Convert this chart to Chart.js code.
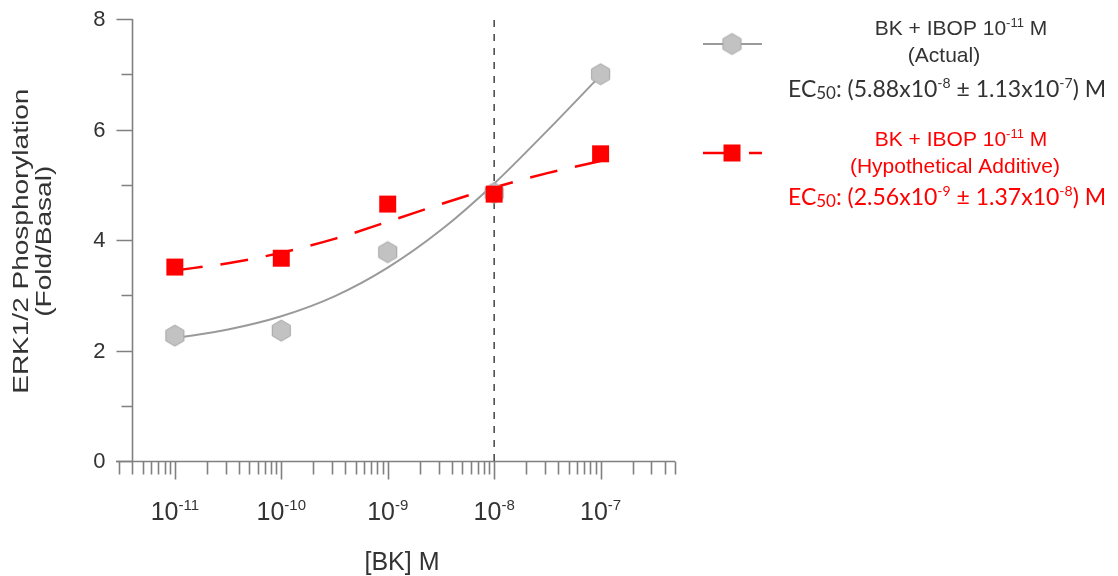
<!DOCTYPE html>
<html>
<head>
<meta charset="utf-8">
<script src="https://cdn.jsdelivr.net/npm/chart.js@4.4.1/dist/chart.umd.min.js"></script>
<style>
  html, body { margin: 0; padding: 0; background: #fff; }
  #wrap { width: 1118px; height: 576px; }
</style>
</head>
<body>
<div id="wrap"><canvas id="chart" width="1118" height="576"></canvas></div>
<script>
// measured points, [BK] in M
const doses = [1e-11, 1e-10, 1e-9, 1e-8, 1e-7]
const actual = [2.27, 2.36, 3.78, 4.85, 7.0]
const additive = [3.51, 3.67, 4.65, 4.83, 5.56]

// fitted curves, every half decade
const curveDoses = [1e-11, 3.16e-11, 1e-10, 3.16e-10, 1e-9, 3.16e-9, 1e-8, 3.16e-8, 1e-7]
const actualFit = [2.22, 2.38, 2.62, 2.98, 3.50, 4.18, 5.02, 5.98, 6.98]
const additiveFit = [3.45, 3.58, 3.77, 4.02, 4.33, 4.65, 4.95, 5.21, 5.43]

const refDose = 1e-8
const yTicks = [0, 1, 2, 3, 4, 5, 6, 7, 8]
const yLabels = ['0', '', '2', '', '4', '', '6', '', '8']
const xDecades = [1e-11, 1e-10, 1e-9, 1e-8, 1e-7]
const xExps = ['-11', '-10', '-9', '-8', '-7']

const GREY = '#9a9a9a'
const RED = '#ff0000'
const AXIS = '#808080'
const TEXT = '#333333'
const FONT = '"Liberation Sans", Arial, sans-serif'

function hexPath (g, cx, cy, r) {
  g.beginPath()
  for (let i = 0; i < 6; i++) {
    const a = Math.PI / 2 + i * Math.PI / 3
    const px = cx + r * Math.cos(a)
    const py = cy + r * Math.sin(a)
    if (i) g.lineTo(px, py)
    else g.moveTo(px, py)
  }
  g.closePath()
}

function hexagon (r) {
  const c = document.createElement('canvas')
  const s = Math.ceil(r * 2 + 4)
  c.width = s
  c.height = s
  const g = c.getContext('2d')
  hexPath(g, s / 2, s / 2, r)
  g.fillStyle = '#c2c2c2'
  g.fill()
  g.strokeStyle = '#a5a5a5'
  g.lineWidth = 1
  g.stroke()
  return c
}
const hexImg = hexagon(10.5)

// text with superscript / subscript runs, centred on cx
function richText (ctx, parts, cx, baseline, size, family, color) {
  const fontFor = m => (m === 'n' ? size : Math.round(size * (m === 'sub' ? 0.72 : 0.6))) + 'px ' + family
  let total = 0
  parts.forEach(([t, m]) => { ctx.font = fontFor(m); total += ctx.measureText(t).width })
  let px = cx - total / 2
  ctx.fillStyle = color
  ctx.textAlign = 'left'
  ctx.textBaseline = 'alphabetic'
  parts.forEach(([t, m]) => {
    ctx.font = fontFor(m)
    const dy = m === 'sup' ? -size * 0.4 : (m === 'sub' ? size * 0.08 : 0)
    ctx.fillText(t, px, baseline + dy)
    px += ctx.measureText(t).width
  })
}

const axesPlugin = {
  id: 'prismAxes',
  beforeDatasetsDraw (chart) {
    const { ctx, chartArea, scales: { x, y } } = chart
    ctx.save()
    ctx.strokeStyle = AXIS
    ctx.lineWidth = 1.6
    const ax = Math.round(x.getPixelForValue(4e-12)) + 0.5
    const y0 = Math.round(y.getPixelForValue(0)) + 0.5

    // y axis
    ctx.beginPath()
    ctx.moveTo(ax, y0)
    ctx.lineTo(ax, Math.round(y.getPixelForValue(8)))
    yTicks.forEach((v, i) => {
      const py = Math.round(y.getPixelForValue(v)) + 0.5
      const len = yLabels[i] ? 16 : 11
      ctx.moveTo(ax - len, py)
      ctx.lineTo(ax, py)
    })
    ctx.stroke()

    // x axis with log ticks
    ctx.beginPath()
    ctx.moveTo(chartArea.left, y0)
    ctx.lineTo(chartArea.right, y0)
    for (let e = -12; e <= -7; e++) {
      for (let k = 1; k <= 9; k++) {
        const v = k * Math.pow(10, e)
        if (v < x.min || v > x.max * 1.0001) continue
        const px = Math.round(x.getPixelForValue(v)) + 0.5
        ctx.moveTo(px, y0)
        ctx.lineTo(px, y0 + (k === 1 ? 18 : 13))
      }
    }
    ctx.stroke()

    // tick labels
    ctx.fillStyle = TEXT
    ctx.font = '22px ' + FONT
    ctx.textAlign = 'right'
    ctx.textBaseline = 'middle'
    yTicks.forEach((v, i) => {
      if (yLabels[i]) ctx.fillText(yLabels[i], ax - 27, y.getPixelForValue(v) + 1)
    })
    xDecades.forEach((v, i) => {
      richText(ctx, [['10', 'n'], [xExps[i], 'sup']], x.getPixelForValue(v), 520, 25, FONT, TEXT)
    })

    // axis titles
    ctx.fillStyle = TEXT
    ctx.font = '25px ' + FONT
    ctx.textAlign = 'center'
    ctx.textBaseline = 'alphabetic'
    ctx.fillText('[BK] M', 402, 570)

    ctx.save()
    ctx.translate(34, (chartArea.top + y0) / 2 + 1)
    ctx.rotate(-Math.PI / 2)
    ctx.scale(1, 0.8)
    ctx.textBaseline = 'middle'
    ctx.font = '28px ' + FONT
    ctx.fillText('ERK1/2 Phosphorylation', 0, -15)
    ctx.fillText('(Fold/Basal)', 0, 14)
    ctx.restore()
    ctx.restore()
  },
  afterDraw (chart) {
    const { ctx } = chart
    ctx.save()
    // legend: actual
    ctx.strokeStyle = GREY
    ctx.lineWidth = 2
    ctx.beginPath()
    ctx.moveTo(703, 44)
    ctx.lineTo(762, 44)
    ctx.stroke()
    ctx.drawImage(hexImg, 732 - hexImg.width / 2, 44 - hexImg.height / 2)
    richText(ctx, [['BK + IBOP 10', 'n'], ['-11', 'sup'], [' M', 'n']], 961, 35, 21, FONT, TEXT)
    richText(ctx, [['(Actual)', 'n']], 944, 62, 21, FONT, TEXT)
    richText(ctx, [['EC', 'n'], ['50', 'sub'], [': (5.88x10', 'n'], ['-8', 'sup'], [' \u00b1 1.13x10', 'n'], ['-7', 'sup'], [') M', 'n']], 947, 97, 23, 'Lato, sans-serif', TEXT)

    // legend: hypothetical additive
    ctx.strokeStyle = RED
    ctx.lineWidth = 2.5
    ctx.setLineDash([28, 18])
    ctx.beginPath()
    ctx.moveTo(703, 153)
    ctx.lineTo(762, 153)
    ctx.stroke()
    ctx.setLineDash([])
    ctx.fillStyle = RED
    ctx.fillRect(732 - 8.5, 153 - 8.5, 17, 17)
    richText(ctx, [['BK + IBOP 10', 'n'], ['-11', 'sup'], [' M', 'n']], 961, 146, 21, FONT, RED)
    richText(ctx, [['(Hypothetical Additive)', 'n']], 955, 173, 21, FONT, RED)
    richText(ctx, [['EC', 'n'], ['50', 'sub'], [': (2.56x10', 'n'], ['-9', 'sup'], [' \u00b1 1.37x10', 'n'], ['-8', 'sup'], [') M', 'n']], 947, 205, 23, 'Lato, sans-serif', RED)
    ctx.restore()
  }
}

function build () {
  const ctx = document.getElementById('chart').getContext('2d')
  const pts = (xs, ys) => xs.map((v, i) => ({ x: v, y: ys[i] }))

  return new Chart(ctx, {
    type: 'line',
    data: {
      datasets: [
        {
          label: 'BK + IBOP (Hypothetical Additive)',
          data: pts(doses, additive),
          showLine: false,
          pointStyle: 'rect',
          pointRadius: 12,
          pointBackgroundColor: RED,
          pointBorderWidth: 0,
          order: 0
        },
        {
          label: 'BK + IBOP (Actual)',
          data: pts(doses, actual),
          showLine: false,
          pointStyle: hexImg,
          order: 1
        },
        {
          label: 'Additive fit',
          data: pts(curveDoses, additiveFit),
          borderColor: RED,
          borderWidth: 2.5,
          borderDash: [28, 18],
          pointRadius: 0,
          cubicInterpolationMode: 'monotone',
          order: 2
        },
        {
          label: 'Actual fit',
          data: pts(curveDoses, actualFit),
          borderColor: GREY,
          borderWidth: 2,
          pointRadius: 0,
          cubicInterpolationMode: 'monotone',
          order: 3
        },
        {
          label: 'reference',
          data: [{ x: refDose, y: 0 }, { x: refDose, y: 8 }],
          borderColor: '#444',
          borderWidth: 1.5,
          borderDash: [7, 7],
          pointRadius: 0,
          order: 4
        }
      ]
    },
    options: {
      responsive: false,
      animation: false,
      layout: { padding: { left: 116, top: 19, right: 443, bottom: 115 } },
      scales: {
        x: { type: 'logarithmic', min: 2.8e-12, max: 5e-7, display: false },
        y: { type: 'linear', min: 0, max: 8, display: false }
      },
      plugins: {
        legend: { display: false },
        tooltip: { enabled: false },
        title: { display: false }
      }
    },
    plugins: [axesPlugin]
  })
}

build()
</script>
</body>
</html>
